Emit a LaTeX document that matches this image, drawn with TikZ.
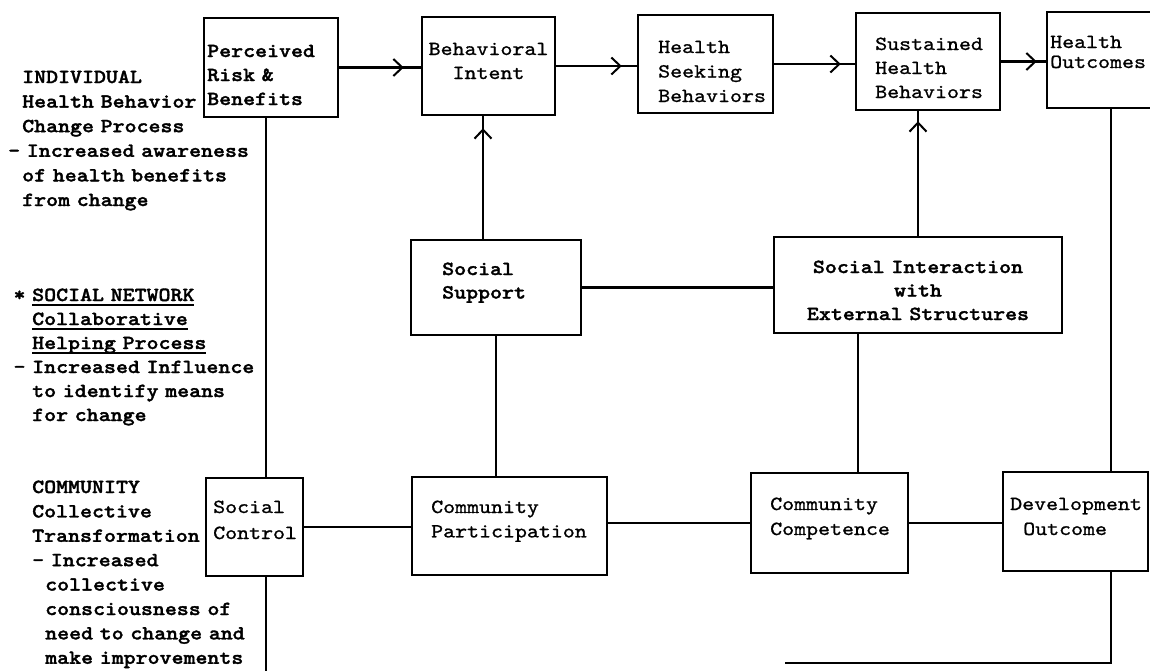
\documentclass[tikz,border=0pt]{standalone}
\usepackage{fontspec}
\setmonofont[FakeStretch=1.14,FakeBold=1.0,BoldFont=lmmonolt10-bold.otf,BoldFeatures={FakeBold=1.6}]{lmmono10-regular.otf}
\usetikzlibrary{arrows.meta,decorations.markings,calc}
\newcommand\myul[1]{\leavevmode\setbox0=\hbox{#1}\rlap{\rule[-5pt]{\wd0}{2pt}}\box0}
\begin{document}
\begin{tikzpicture}[x=1pt,y=-1pt,
  box/.style={draw, line width=2.4pt, inner sep=0pt},
  con/.style={draw, line width=2.2pt},
  arr/.style={con, postaction={decorate}, decoration={markings,
      mark=at position -#1 with {\arrow{Straight Barb[length=9pt,width=17pt,line width=2pt]}}}},
  txt/.style={inner sep=0pt, anchor=base west, align=left, text width=300pt,
      font=\ttfamily\fontsize{20}{24.4}\selectfont},
  ctxt/.style={inner sep=0pt, anchor=base, align=center,
      font=\ttfamily\fontsize{20}{24}\selectfont}]
\useasboundingbox (0,0) rectangle (1150,670);
\clip (0,0) rectangle (1150,670);

% boxes
\node[box, minimum width=134, minimum height=99] (pr) at (271,67.5) {};
\node[box, minimum width=133, minimum height=98] (bi) at (488.5,66) {};
\node[box, minimum width=135, minimum height=98] (hs) at (705.5,64) {};
\node[box, minimum width=144, minimum height=97] (sh) at (928,61.5) {};
\node[box, minimum width=123, minimum height=96] (ho) at (1108.5,60) {};
\node[box, minimum width=170, minimum height=95] (ss) at (496,287.5) {};
\node[box, minimum width=288, minimum height=96] (si) at (918,285) {};
\node[box, minimum width=97, minimum height=98] (sc) at (254.5,527) {};
\node[box, minimum width=195, minimum height=98] (cp) at (509.5,526) {};
\node[box, minimum width=157, minimum height=100] (cc) at (829.5,523) {};
\node[box, minimum width=145, minimum height=99] (do) at (1075.5,521.5) {};

% box texts
\node[txt, font=\ttfamily\bfseries\fontsize{20}{24}\selectfont] (prt) at (207,57) {Perceived\\Risk \&\\Benefits};
\node[ctxt, text width=130pt] (bit) at (488.5,55) {Behavioral\\Intent};
\node[txt, font=\ttfamily\fontsize{20}{24.5}\selectfont] (hst) at (658,53) {Health\\Seeking\\Behaviors};
\node[txt, font=\ttfamily\fontsize{20}{24}\selectfont] (sht) at (875,50) {Sustained\\Health\\Behaviors};
\node[txt, font=\ttfamily\fontsize{20}{20}\selectfont] (hot) at (1050,48) {Health\\Outcomes};
\node[txt, font=\ttfamily\bfseries\fontsize{20}{23.5}\selectfont] (sst) at (442,275) {Social\\Support};
\node[ctxt, text width=280pt, font=\ttfamily\bfseries\fontsize{20}{23.5}\selectfont] (sit) at (918,273) {Social Interaction\\with\\External Structures};
\node[txt, font=\ttfamily\fontsize{20}{26}\selectfont] (sct) at (213,513) {Social\\Control};
\node[txt] (cpt) at (431,513) {Community\\Participation};
\node[txt, font=\ttfamily\fontsize{20}{25}\selectfont] (cct) at (770,510) {Community\\Competence};
\node[txt, font=\ttfamily\fontsize{20}{25}\selectfont] (dot) at (1010,510) {Development\\\hspace*{13pt}Outcome};

% side texts
\node[txt, font=\ttfamily\bfseries\fontsize{20}{24.6}\selectfont] (ind) at (22,83)
  {INDIVIDUAL\\Health Behavior\\Change Process\\\hspace*{-14pt}- Increased awareness\\of health benefits\\from change};
\node[txt, font=\ttfamily\bfseries\fontsize{20}{24}\selectfont] (soc) at (32,301)
  {\leavevmode\llap{* }\myul{SOCIAL NETWORK}\\\myul{Collaborative}\\\myul{Helping Process}\\\leavevmode\llap{- }Increased Influence\\to identify means\\for change};
\node[txt, font=\ttfamily\bfseries\fontsize{20}{24.4}\selectfont] (com) at (32,493)
  {COMMUNITY\\Collective\\Transformation\\- Increased\\\hspace*{13pt}collective\\\hspace*{13pt}consciousness of\\\hspace*{13pt}need to change and\\\hspace*{13pt}make improvements};

% helper coordinates
\coordinate (vx) at (266,0);
\coordinate (vb) at (483,0);
\coordinate (vc) at (858,0);
\coordinate (vr) at (1111,0);
\coordinate (bot) at (0,672);
\coordinate (bl) at (785,663);

% top row arrows
\draw[arr=17pt] (pr.east) -- (pr.east -| bi.west);
\draw[arr=15pt] (bi.east) -- (bi.east -| hs.west);
\draw[arr=14pt] (hs.east) -- (hs.east -| sh.west);
\draw[arr=9pt] (sh.east) -- (sh.east -| ho.west);

% upward arrows
\draw[arr=12pt] (ss.north -| vb) -- (bi.south -| vb);
\draw[arr=10pt] (si.north) -- (si.north |- sh.south);

% plain connectors
\draw[con] (pr.south -| vx) -- (sc.north -| vx);
\draw[con] (sc.south -| vx) -- (vx |- bot);
\draw[con] (sc.east) -- (sc.east -| cp.west);
\draw[con] (ss.east) -- (ss.east -| si.west);
\draw[con] (ss.south) -- (ss.south |- cp.north);
\draw[con] (si.south -| vc) -- (cc.north -| vc);
\draw[con] (cc.west -| cp.east) -- (cc.west);
\draw[con] (cc.east) -- (cc.east -| do.west);
\draw[con] (ho.south -| vr) -- (do.north -| vr);
\draw[con] (do.south -| vr) -- (vr |- bl) -- (bl);
\end{tikzpicture}
\end{document}
